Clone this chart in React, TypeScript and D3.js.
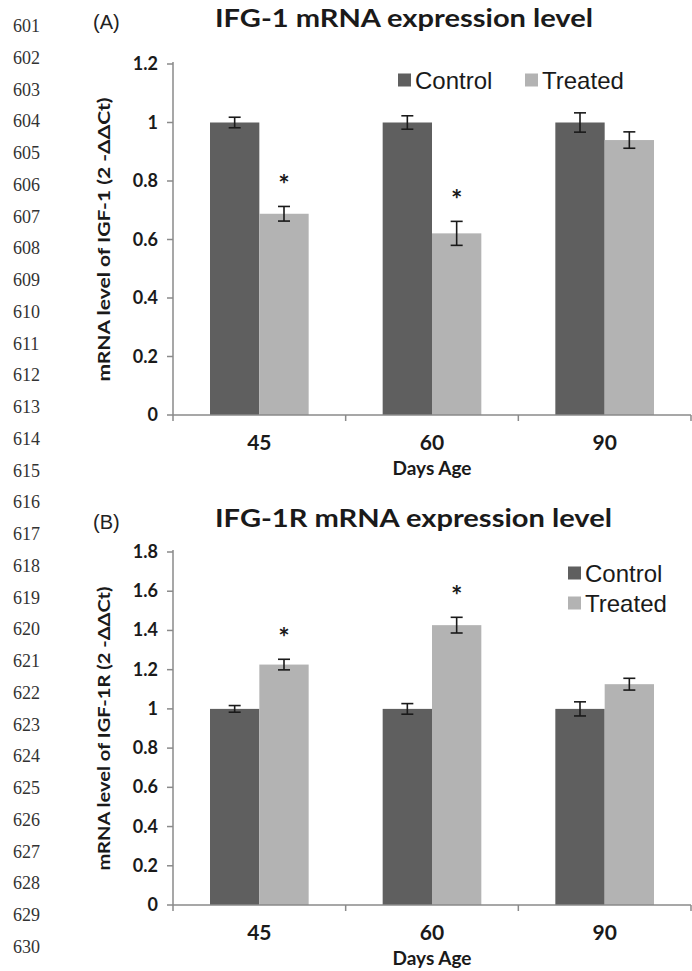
import React from 'react';
import * as d3 from 'd3';

// data
const days = ['45', '60', '90'];
const seriesNames = ['Control', 'Treated'];

const igf1Control = [1, 1, 1];
const igf1ControlErr = [0.018, 0.023, 0.033];
const igf1Treated = [0.688, 0.621, 0.94];
const igf1TreatedErr = [0.025, 0.041, 0.028];
const igf1Star = [true, true, false];
const igf1Ticks = [0, 0.2, 0.4, 0.6, 0.8, 1, 1.2];

const igf1rControl = [1, 1, 1];
const igf1rControlErr = [0.017, 0.027, 0.036];
const igf1rTreated = [1.226, 1.427, 1.126];
const igf1rTreatedErr = [0.027, 0.04, 0.03];
const igf1rStar = [true, true, false];
const igf1rTicks = [0, 0.2, 0.4, 0.6, 0.8, 1, 1.2, 1.4, 1.6, 1.8];

const lineNumbers = d3.range(601, 631);

const colors = ['#5f5f5f', '#b3b3b3'];
const boldFont = "Lato, 'Open Sans', sans-serif";
const axisColor = '#8a8a8a';

type PanelProps = {
  letter: string;
  title: string;
  titleWidth: number;
  yLabel: string;
  control: number[];
  controlErr: number[];
  treated: number[];
  treatedErr: number[];
  stars: boolean[];
  ticks: number[];
  top: number;
  bottom: number;
  offset: number;
  legend: { x: number; y: number; vertical: boolean };
};

function Panel(p: PanelProps) {
  const left = 173;
  const right = 691;
  const x = d3.scaleBand().domain(days).range([left, right]).padding(0);
  const xs = d3
    .scaleBand()
    .domain(seriesNames)
    .range([0, x.bandwidth()])
    .paddingInner(0)
    .paddingOuter(0.75);
  const y = d3
    .scaleLinear()
    .domain([0, p.ticks[p.ticks.length - 1]])
    .range([p.bottom, p.top]);

  const values = [p.control, p.treated];
  const errs = [p.controlErr, p.treatedErr];
  const bounds = [...days.map((d) => x(d) as number), right];
  const fmt = (v: number) => (v === 0 || v === 1 ? String(v) : d3.format('.1f')(v));

  return (
    <g>
      <text x={93} y={p.offset + 29} fontFamily="'Liberation Sans', Arial" fontSize={20} fill="#222">
        {p.letter}
      </text>
      <text
        x={215}
        y={p.offset + 27}
        fontFamily={boldFont}
        fontWeight="bold"
        fontSize={25}
        textLength={p.titleWidth}
        lengthAdjust="spacingAndGlyphs"
        fill="#1a1a1a"
      >
        {p.title}
      </text>

      {/* bars */}
      {seriesNames.map((s, si) =>
        days.map((d, i) => (
          <rect
            key={s + d}
            x={(x(d) as number) + (xs(s) as number)}
            y={y(values[si][i])}
            width={xs.bandwidth()}
            height={p.bottom - y(values[si][i])}
            fill={colors[si]}
          />
        ))
      )}

      {/* error bars */}
      {seriesNames.map((s, si) =>
        days.map((d, i) => {
          const cx = (x(d) as number) + (xs(s) as number) + xs.bandwidth() / 2;
          const hi = y(values[si][i] + errs[si][i]);
          const lo = y(values[si][i] - errs[si][i]);
          return (
            <g key={'e' + s + d} stroke="#1a1a1a" strokeWidth={1.6}>
              <line x1={cx} x2={cx} y1={hi} y2={lo} />
              <line x1={cx - 6} x2={cx + 6} y1={hi} y2={hi} />
              <line x1={cx - 6} x2={cx + 6} y1={lo} y2={lo} />
            </g>
          );
        })
      )}

      {/* significance marks */}
      {days.map((d, i) =>
        p.stars[i] ? (
          <text
            key={'s' + d}
            x={(x(d) as number) + (xs('Treated') as number) + xs.bandwidth() / 2}
            y={y(p.treated[i] + p.treatedErr[i]) - 12}
            textAnchor="middle"
            fontFamily={boldFont}
            fontWeight="bold"
            fontSize={27}
            fill="#1a1a1a"
          >
            *
          </text>
        ) : null
      )}

      {/* y axis */}
      <line x1={left} x2={left} y1={p.top - 2} y2={p.bottom} stroke={axisColor} strokeWidth={1.5} />
      {p.ticks.map((t) => (
        <g key={'t' + t}>
          <line x1={left - 6} x2={left} y1={y(t)} y2={y(t)} stroke={axisColor} strokeWidth={1.5} />
          <text
            x={158}
            y={y(t) + 6}
            textAnchor="end"
            fontFamily={boldFont}
            fontWeight="bold"
            fontSize={18}
            fill="#1a1a1a"
          >
            {fmt(t)}
          </text>
        </g>
      ))}

      {/* x axis */}
      <line x1={left} x2={right} y1={p.bottom} y2={p.bottom} stroke={axisColor} strokeWidth={1.5} />
      {bounds.map((b, i) => (
        <line key={'b' + i} x1={b} x2={b} y1={p.bottom} y2={p.bottom + 6} stroke={axisColor} strokeWidth={1.5} />
      ))}
      {days.map((d) => (
        <text
          key={'x' + d}
          x={(x(d) as number) + x.bandwidth() / 2}
          y={p.bottom + 35}
          textAnchor="middle"
          fontFamily={boldFont}
          fontWeight="bold"
          fontSize={21}
          fill="#1a1a1a"
        >
          {d}
        </text>
      ))}
      <text
        x={(left + right) / 2}
        y={p.bottom + 60}
        textAnchor="middle"
        fontFamily={boldFont}
        fontWeight="bold"
        fontSize={19}
        fill="#1a1a1a"
      >
        Days Age
      </text>

      <text
        transform={`translate(110,${(p.top + p.bottom) / 2}) rotate(-90)`}
        textAnchor="middle"
        fontFamily={boldFont}
        fontWeight="bold"
        fontSize={17}
        textLength={284}
        lengthAdjust="spacingAndGlyphs"
        fill="#1a1a1a"
      >
        {p.yLabel}
      </text>

      {/* legend */}
      {seriesNames.map((s, si) => {
        const lx = p.legend.vertical ? p.legend.x : p.legend.x + si * 127;
        const ly = p.legend.vertical ? p.legend.y + si * 30 : p.legend.y;
        return (
          <g key={'l' + s}>
            <rect x={lx} y={ly - 6.5} width={13} height={13} fill={colors[si]} />
            <text
              x={lx + 17}
              y={ly + 8.5}
              fontFamily="'Liberation Sans', Arial"
              fontSize={24}
              fill="#1a1a1a"
            >
              {s}
            </text>
          </g>
        );
      })}
    </g>
  );
}

export default function App() {
  const ln = d3.scaleLinear().domain([601, 630]).range([26, 947]);
  return (
    <svg
      width={692}
      height={971}
      style={{ position: 'absolute', left: 0, top: 0, background: '#fff' }}
    >
      <rect width={692} height={971} fill="#fff" />
      {lineNumbers.map((n) => (
        <text key={n} x={13} y={ln(n) + 6} fontFamily="'Liberation Serif', serif" fontSize={18} fill="#333">
          {n}
        </text>
      ))}
      <Panel
        letter="(A)"
        title="IFG-1 mRNA expression level"
        titleWidth={378}
        yLabel="mRNA level  of IGF-1 (2 -ΔΔCt)"
        control={igf1Control}
        controlErr={igf1ControlErr}
        treated={igf1Treated}
        treatedErr={igf1TreatedErr}
        stars={igf1Star}
        ticks={igf1Ticks}
        top={64}
        bottom={415}
        offset={0}
        legend={{ x: 398, y: 80, vertical: false }}
      />
      <Panel
        letter="(B)"
        title="IFG-1R mRNA expression level"
        titleWidth={397}
        yLabel="mRNA level of IGF-1R (2 -ΔΔCt)"
        control={igf1rControl}
        controlErr={igf1rControlErr}
        treated={igf1rTreated}
        treatedErr={igf1rTreatedErr}
        stars={igf1rStar}
        ticks={igf1rTicks}
        top={552}
        bottom={905}
        offset={500}
        legend={{ x: 568, y: 573, vertical: true }}
      />
    </svg>
  );
}
